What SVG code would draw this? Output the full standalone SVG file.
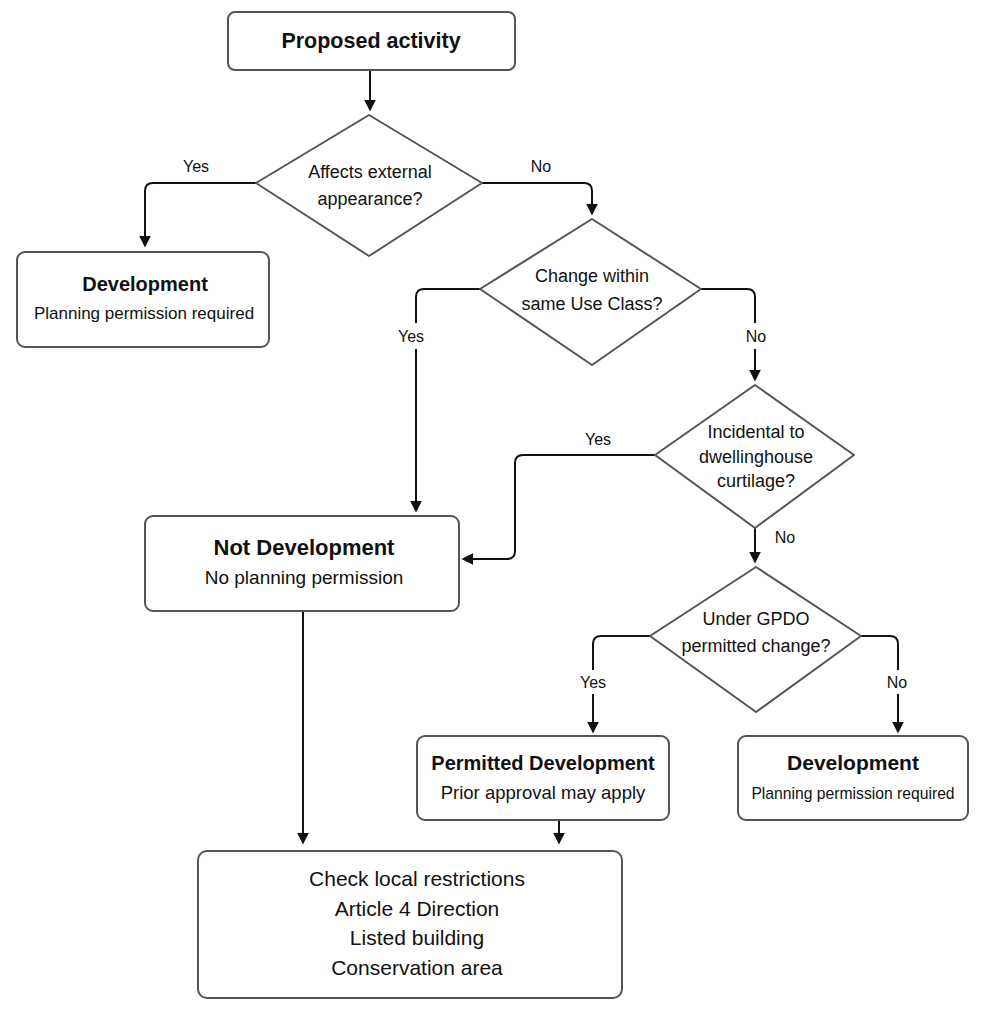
<svg xmlns="http://www.w3.org/2000/svg" width="985" height="1016" viewBox="0 0 985 1016">
<style>
  .box { fill: #ffffff; stroke: #555555; stroke-width: 2; }
  .dia { fill: #ffffff; stroke: #555555; stroke-width: 2; stroke-linejoin: round; }
  .conn { fill: none; stroke: #111111; stroke-width: 2; }
  text { font-family: "Liberation Sans", Arial, sans-serif; fill: #111111; text-anchor: middle; }
  .title { font-weight: bold; font-size: 20px; }
  .sub { font-size: 17px; }
  .q { font-size: 18px; }
  .lbl { font-size: 16px; }
  .mask { fill: #ffffff; stroke: none; }
</style>
<defs>
  <marker id="arrow" markerUnits="userSpaceOnUse" markerWidth="12" markerHeight="12" viewBox="0 0 10 10" refX="7" refY="5" orient="auto">
    <path d="M0,0 L10,5 L0,10 z" fill="#111111"/>
  </marker>
</defs>
<rect width="985" height="1016" fill="#ffffff"/>

<g id="connectors">
  <path class="conn" d="M370,71 V108" marker-end="url(#arrow)"/>
  <path class="conn" d="M256,183 H153 Q145,183 145,191 V244" marker-end="url(#arrow)"/>
  <path class="conn" d="M482,183 H584 Q592,183 592,191 V212" marker-end="url(#arrow)"/>
  <path class="conn" d="M480,289 H424 Q416,289 416,297 V509" marker-end="url(#arrow)"/>
  <path class="conn" d="M701,289 H747 Q755,289 755,297 V378" marker-end="url(#arrow)"/>
  <path class="conn" d="M655,455 H523 Q515,455 515,463 V551 Q515,559 507,559 H465" marker-end="url(#arrow)"/>
  <path class="conn" d="M755,528 V560" marker-end="url(#arrow)"/>
  <path class="conn" d="M650,636 H601 Q593,636 593,644 V730" marker-end="url(#arrow)"/>
  <path class="conn" d="M861,636 H890 Q898,636 898,644 V730" marker-end="url(#arrow)"/>
  <path class="conn" d="M303,611 V841" marker-end="url(#arrow)"/>
  <path class="conn" d="M559,820 V841" marker-end="url(#arrow)"/>
  <text class="lbl" x="196" y="172">Yes</text>
  <text class="lbl" x="541" y="172">No</text>
  <rect class="mask" x="398" y="323" width="28" height="26"/>
  <text class="lbl" x="411" y="342">Yes</text>
  <rect class="mask" x="744" y="323" width="24" height="26"/>
  <text class="lbl" x="756" y="342">No</text>
  <text class="lbl" x="598" y="445">Yes</text>
  <text class="lbl" x="785" y="543">No</text>
  <rect class="mask" x="579" y="670" width="28" height="24"/>
  <text class="lbl" x="593" y="688">Yes</text>
  <rect class="mask" x="886" y="670" width="24" height="24"/>
  <text class="lbl" x="897" y="688">No</text>
</g>

<g id="start">
  <rect class="box" x="228" y="12" width="287" height="58" rx="7"/>
  <text class="title" x="371" y="48" style="font-size:21.5px">Proposed activity</text>
</g>

<g id="q-external">
  <polygon class="dia" points="369,115 482,183 369,256 256,183"/>
  <text class="q" x="370" y="178">Affects external</text>
  <text class="q" x="370" y="205">appearance?</text>
</g>

<g id="development-1">
  <rect class="box" x="17" y="252" width="252" height="95" rx="8"/>
  <text class="title" x="145" y="291">Development</text>
  <text class="sub" x="144" y="319">Planning permission required</text>
</g>

<g id="q-useclass">
  <polygon class="dia" points="592,219 701,289 592,365 480,289"/>
  <text class="q" x="592" y="282">Change within</text>
  <text class="q" x="592" y="310">same Use Class?</text>
</g>

<g id="q-curtilage">
  <polygon class="dia" points="755,385 854,455 755,528 655,455"/>
  <text class="q" x="756" y="438">Incidental to</text>
  <text class="q" x="756" y="463">dwellinghouse</text>
  <text class="q" x="756" y="487">curtilage?</text>
</g>

<g id="not-development">
  <rect class="box" x="145" y="516" width="314" height="95" rx="8"/>
  <text class="title" x="304" y="555" style="font-size:22px">Not Development</text>
  <text class="sub" x="304" y="584" style="font-size:19px">No planning permission</text>
</g>

<g id="q-gpdo">
  <polygon class="dia" points="756,567 861,636 756,712 650,636"/>
  <text class="q" x="756" y="625">Under GPDO</text>
  <text class="q" x="756" y="652">permitted change?</text>
</g>

<g id="permitted-development">
  <rect class="box" x="417" y="736" width="252" height="84" rx="8"/>
  <text class="title" x="543" y="770">Permitted Development</text>
  <text class="sub" x="543" y="799" style="font-size:18.5px">Prior approval may apply</text>
</g>

<g id="development-2">
  <rect class="box" x="738" y="736" width="230" height="84" rx="8"/>
  <text class="title" x="853" y="770" style="font-size:21px">Development</text>
  <text class="sub" x="853" y="799" style="font-size:15.7px">Planning permission required</text>
</g>

<g id="local-restrictions">
  <rect class="box" x="198" y="851" width="424" height="147" rx="9"/>
  <text x="417" y="886" style="font-size:21px">Check local  restrictions</text>
  <text x="417" y="916" style="font-size:21px">Article 4 Direction</text>
  <text x="417" y="945" style="font-size:21px">Listed building</text>
  <text x="417" y="975" style="font-size:21px">Conservation area</text>
</g>
</svg>
